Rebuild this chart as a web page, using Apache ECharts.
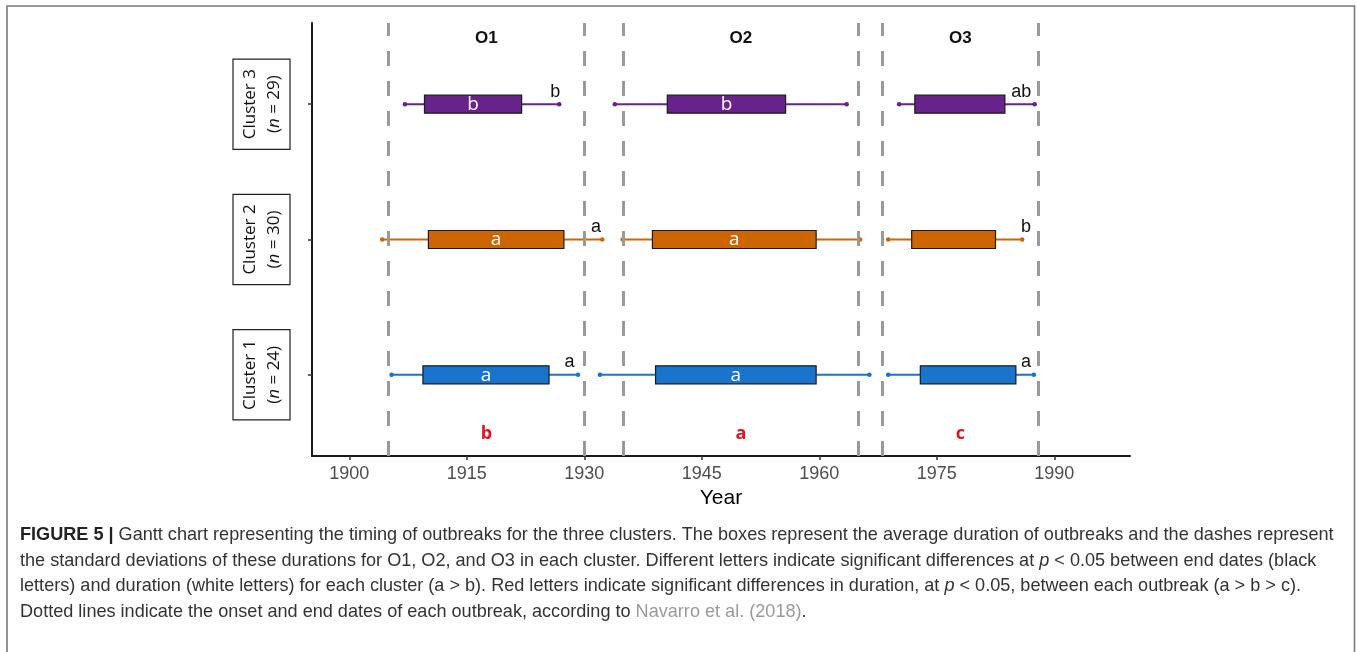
<!DOCTYPE html>
<html>
<head>
<meta charset="utf-8">
<script src="https://cdn.jsdelivr.net/npm/echarts@6/dist/echarts.min.js"></script>
<style>
  html, body { margin: 0; padding: 0; background: #ffffff; }
  #chart { width: 1357px; height: 652px; }
</style>
</head>
<body>
<div id="chart"></div>
<script>
// ---- data -------------------------------------------------------------
const clusterNames = ['Cluster 1', 'Cluster 2', 'Cluster 3'];
const clusterSizes = [24, 30, 29];
const clusterColors = ['#1874CD', '#CD6600', '#68228B'];

// each outbreak: [start - SD, mean start, mean end, end + SD]  (years)
const cluster1 = [[1905.4, 1909.4, 1925.5, 1929.2], [1932.0, 1939.1, 1959.6, 1966.4], [1968.8, 1972.9, 1985.1, 1987.4]];
const cluster2 = [[1904.2, 1910.1, 1927.4, 1932.3], [1934.9, 1938.7, 1959.6, 1965.2], [1968.8, 1971.8, 1982.5, 1985.9]];
const cluster3 = [[1907.1, 1909.6, 1922.0, 1926.8], [1933.9, 1940.6, 1955.7, 1963.5], [1970.2, 1972.2, 1983.7, 1987.5]];

// duration letters (white, inside the boxes)
const durationLetters1 = ['a', 'a', ''];
const durationLetters2 = ['a', 'a', ''];
const durationLetters3 = ['b', 'b', ''];

// end-date letters (black) and the year each one is centred on
const endLetters1 = ['a', '', 'a'];
const endLetters2 = ['a', '', 'b'];
const endLetters3 = ['b', '', 'ab'];
const endLetterYears1 = [1928.1, null, 1986.4];
const endLetterYears2 = [1931.5, null, 1986.4];
const endLetterYears3 = [1926.3, null, 1985.8];

// outbreak periods (Navarro et al. 2018) and duration ranking
const outbreakNames = ['O1', 'O2', 'O3'];
const outbreakOnsets = [1905, 1935, 1968];
const outbreakEnds = [1930, 1965, 1988];
const outbreakLetters = ['b', 'a', 'c'];

const yearTicks = [1900, 1915, 1930, 1945, 1960, 1975, 1990];

// ---- build series data --------------------------------------------------
const clusterRows = [cluster1, cluster2, cluster3];
const durationRows = [durationLetters1, durationLetters2, durationLetters3];
const endRows = [endLetters1, endLetters2, endLetters3];
const endYearRows = [endLetterYears1, endLetterYears2, endLetterYears3];

const ganttData = [];
clusterRows.forEach((rows, c) => {
  rows.forEach((r, o) => {
    const ly = endYearRows[c][o];
    ganttData.push({
      value: [c + 1, r[0], r[1], r[2], r[3], ly == null ? r[3] : ly],
      dur: durationRows[c][o],
      end: endRows[c][o]
    });
  });
});

const periodLabelData = outbreakNames.map((n, i) => ({
  value: [(outbreakOnsets[i] + outbreakEnds[i]) / 2, 3.49], text: n, kind: 'name'
}));
const rankLabelData = outbreakLetters.map((l, i) => ({
  value: [(outbreakOnsets[i] + outbreakEnds[i]) / 2, 0.565], text: l, kind: 'rank'
}));
const topBottomLabels = periodLabelData.concat(rankLabelData);

const boundaryYears = [];
outbreakOnsets.forEach((s, i) => { boundaryYears.push(s, outbreakEnds[i]); });

// ---- chart ---------------------------------------------------------------
const chart = echarts.init(document.getElementById('chart'), null, { renderer: 'canvas' });

const BOX_H = 18;

function renderGantt(params, api) {
  const item = ganttData[params.dataIndex];
  const row = api.value(0);
  const color = clusterColors[row - 1];
  const pLo = api.coord([api.value(1), row]);
  const pBs = api.coord([api.value(2), row]);
  const pBe = api.coord([api.value(3), row]);
  const pHi = api.coord([api.value(4), row]);
  const pLab = api.coord([api.value(5), row]);
  const children = [
    { type: 'line', shape: { x1: pLo[0], y1: pLo[1], x2: pHi[0], y2: pHi[1] },
      style: { stroke: color, lineWidth: 2 } },
    { type: 'circle', shape: { cx: pLo[0], cy: pLo[1], r: 2.3 }, style: { fill: color } },
    { type: 'circle', shape: { cx: pHi[0], cy: pHi[1], r: 2.3 }, style: { fill: color } },
    { type: 'rect', shape: { x: pBs[0], y: pBs[1] - BOX_H / 2, width: pBe[0] - pBs[0], height: BOX_H },
      style: { fill: color, stroke: '#1a1a1a', lineWidth: 1.2 } }
  ];
  if (item.dur) {
    children.push({ type: 'text', x: (pBs[0] + pBe[0]) / 2, y: pBs[1] + 0.5,
      style: { text: item.dur, fill: '#ffffff', fontSize: 19, fontFamily: 'Open Sans',
               align: 'center', verticalAlign: 'middle' } });
  }
  if (item.end) {
    children.push({ type: 'text', x: pLab[0], y: pLab[1] - 12.5,
      style: { text: item.end, fill: '#111111', fontSize: 18, fontFamily: 'Liberation Sans',
               align: 'center', verticalAlign: 'middle' } });
  }
  return { type: 'group', children };
}

function renderLabels(params, api) {
  const item = topBottomLabels[params.dataIndex];
  const p = api.coord([api.value(0), api.value(1)]);
  const isName = item.kind === 'name';
  return {
    type: 'text', x: p[0], y: p[1],
    style: {
      text: item.text,
      fill: isName ? '#111111' : '#E3151C',
      fontSize: isName ? 17 : 18,
      fontWeight: 'bold',
      fontFamily: isName ? 'Liberation Sans' : 'Open Sans',
      align: 'center', verticalAlign: 'middle'
    }
  };
}

// caption lines: [text, style] segments
const captionLines = [
  [['FIGURE 5 |', 'b'], [' Gantt chart representing the timing of outbreaks for the three clusters. The boxes represent the average duration of outbreaks and the dashes represent', 'n']],
  [['the standard deviations of these durations for O1, O2, and O3 in each cluster. Different letters indicate significant differences at ', 'n'], ['p', 'i'], [' < 0.05 between end dates (black', 'n']],
  [['letters) and duration (white letters) for each cluster (a > b). Red letters indicate significant differences in duration, at ', 'n'], ['p', 'i'], [' < 0.05, between each outbreak (a > b > c).', 'n']],
  [['Dotted lines indicate the onset and end dates of each outbreak, according to ', 'n'], ['Navarro et al. (2018)', 'g'], ['.', 'n']]
];
const captionFont = 'Liberation Sans';

// size the caption so its first line spans the figure width
const measureCtx = document.createElement('canvas').getContext('2d');
function segWidth(seg, size) {
  const weight = seg[1] === 'b' ? 'bold ' : '';
  const style = seg[1] === 'i' ? 'italic ' : '';
  measureCtx.font = style + weight + size + 'px "' + captionFont + '"';
  return measureCtx.measureText(seg[0]).width;
}
const firstLineAt16 = captionLines[0].reduce((s, seg) => s + segWidth(seg, 16), 0);
const captionSize = Math.round(16 * 1316 / firstLineAt16 * 10) / 10;

const captionRich = {
  n: { fontSize: captionSize, fontFamily: captionFont, fill: '#333333', color: '#333333' },
  b: { fontSize: captionSize, fontFamily: captionFont, fontWeight: 'bold', fill: '#222222', color: '#222222' },
  i: { fontSize: captionSize, fontFamily: captionFont, fontStyle: 'italic', fill: '#333333', color: '#333333' },
  g: { fontSize: captionSize, fontFamily: captionFont, fill: '#9a9a9a', color: '#9a9a9a' }
};
const captionY = [535, 560.5, 586, 611.5];
const captionGraphics = captionLines.map((line, k) => ({
  type: 'text', x: 20, y: captionY[k], silent: true,
  style: {
    text: line.map(seg => '{' + seg[1] + '|' + seg[0] + '}').join(''),
    rich: captionRich,
    fontSize: captionSize, fontFamily: captionFont, fill: '#333333',
    verticalAlign: 'middle', align: 'left'
  }
}));

const option = {
  backgroundColor: '#ffffff',
  animation: false,
  grid: { left: 312, right: 227, top: 23, bottom: 196, containLabel: false, outerBoundsMode: 'none' },
  xAxis: {
    type: 'value',
    min: 1895.24,
    max: 1999.67,
    name: 'Year',
    nameLocation: 'middle',
    nameGap: 32,
    nameMoveOverlap: false,
    nameTextStyle: { fontSize: 21, color: '#000000', fontFamily: 'Liberation Sans' },
    axisLine: { show: true, lineStyle: { color: '#1a1a1a', width: 2 } },
    axisTick: { show: true, length: 4, lineStyle: { color: '#333333', width: 1.5 }, customValues: yearTicks },
    axisLabel: {
      customValues: yearTicks,
      formatter: v => String(Math.round(v)),
      color: '#4d4d4d', fontSize: 18, fontFamily: 'Liberation Sans', margin: 9
    },
    splitLine: { show: false }
  },
  yAxis: {
    type: 'value',
    min: 0.4,
    max: 3.6,
    axisLine: { show: true, lineStyle: { color: '#1a1a1a', width: 2 } },
    axisTick: { show: true, length: 4, lineStyle: { color: '#333333', width: 1.5 }, customValues: [1, 2, 3] },
    axisLabel: {
      customValues: [1, 2, 3],
      rotate: 90,
      margin: 22,
      formatter: v => {
        const i = Math.round(v) - 1;
        return '{t|' + clusterNames[i] + '}\n{p|(}{it|n}{p| = ' + clusterSizes[i] + ')}';
      },
      borderColor: '#222222',
      borderWidth: 1.2,
      padding: [5, 10, 4, 10],
      rich: {
        t: { fontSize: 17, fontFamily: 'Open Sans', color: '#111111', lineHeight: 24 },
        p: { fontSize: 17, fontFamily: 'Open Sans', color: '#111111', lineHeight: 24 },
        it: { fontSize: 17, fontFamily: 'Open Sans', fontStyle: 'italic', color: '#111111', lineHeight: 24 }
      }
    },
    splitLine: { show: false }
  },
  series: [
    {
      type: 'custom',
      name: 'boundaries',
      data: [],
      renderItem: () => null,
      z: 1,
      markLine: {
        silent: true,
        symbol: ['none', 'none'],
        label: { show: false },
        lineStyle: { color: '#9a9a9a', width: 3, type: [15, 15], opacity: 1 },
        emphasis: { disabled: true },
        data: boundaryYears.map(x => ({ xAxis: x }))
      }
    },
    {
      type: 'custom',
      name: 'outbreaks',
      renderItem: renderGantt,
      encode: { x: [1, 2, 3, 4], y: 0 },
      data: ganttData,
      z: 3
    },
    {
      type: 'custom',
      name: 'labels',
      renderItem: renderLabels,
      encode: { x: 0, y: 1 },
      data: topBottomLabels,
      z: 4
    }
  ],
  graphic: [
    { type: 'rect', silent: true, z: 10,
      shape: { x: 7, y: 6, width: 1347.5, height: 720 },
      style: { fill: 'none', stroke: '#7a7a7a', lineWidth: 1.6 } }
  ].concat(captionGraphics)
};

chart.setOption(option);
</script>
</body>
</html>
